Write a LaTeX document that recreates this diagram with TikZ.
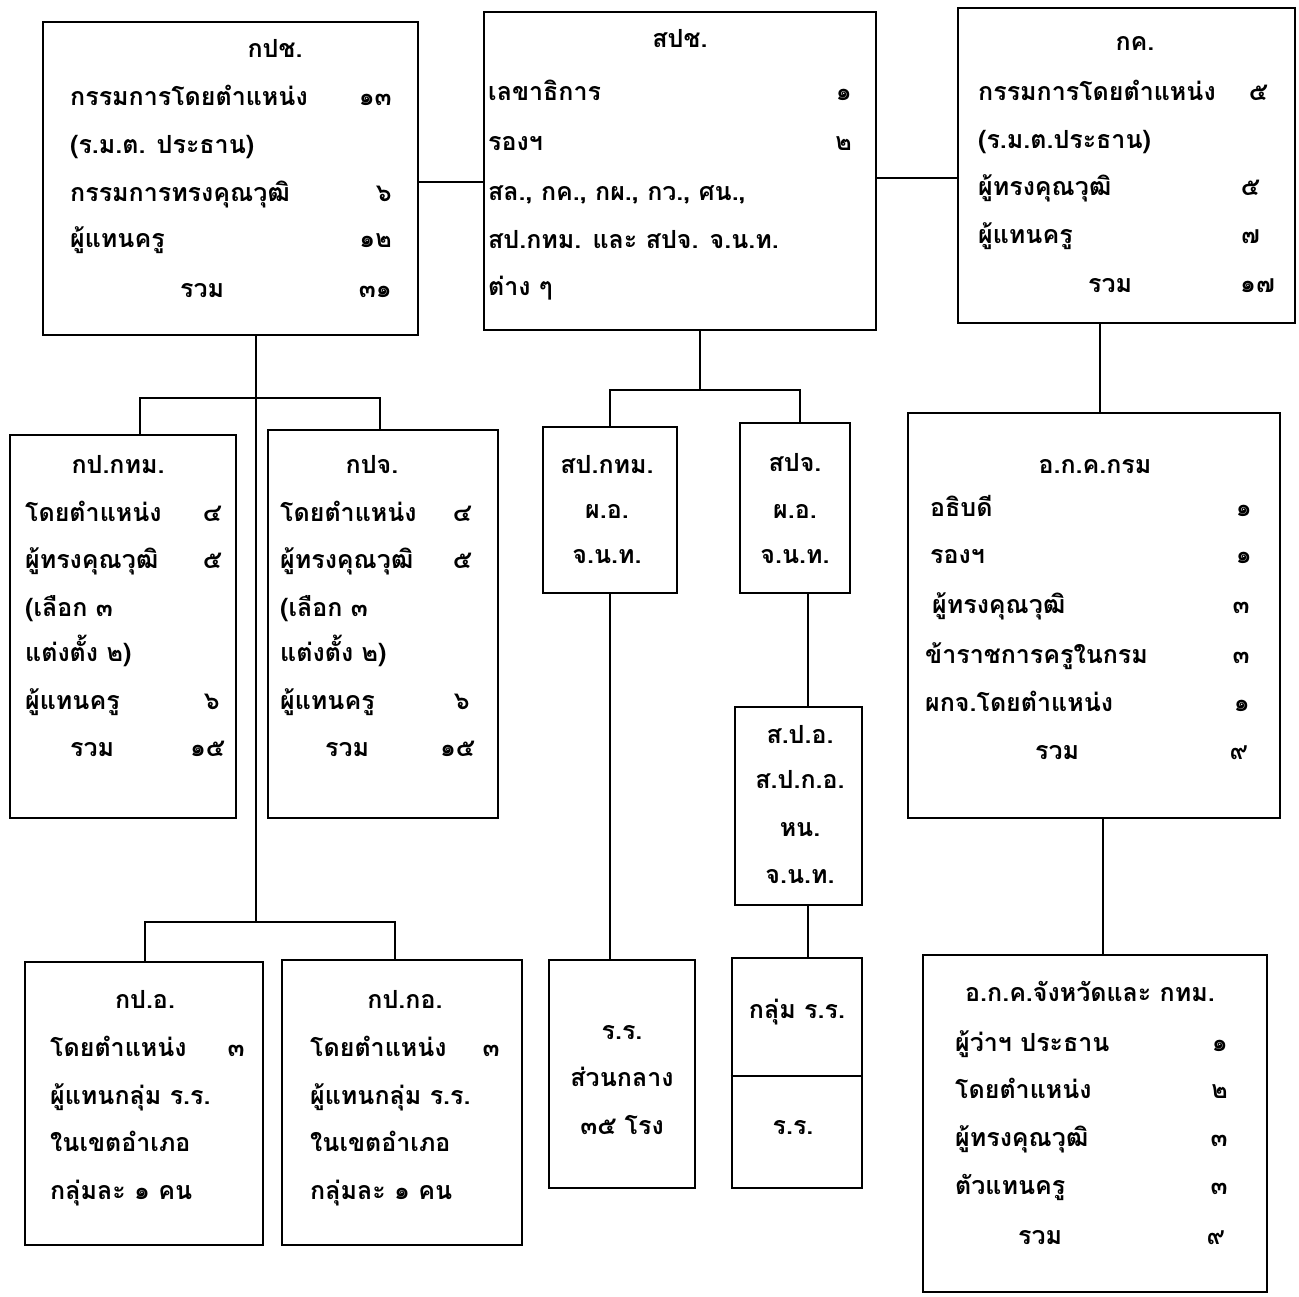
\documentclass[tikz,border=0pt]{standalone}
\usepackage{fontspec}
\newfontfamily\thaifont[Script=Thai]{Loma}
\usetikzlibrary{fit}
\tikzset{
  box/.style={draw, line width=2.8pt, inner sep=0pt},
  conn/.style={line width=2.5pt},
  txt/.style={font=\thaifont\bfseries\fontsize{25}{32}\selectfont, inner sep=0pt, text height=19pt, text depth=7pt, anchor=west},
  num/.style={txt, anchor=east},
  ctr/.style={txt, anchor=center},
}
\begin{document}
\begin{tikzpicture}[x=1pt,y=-1pt]
\useasboundingbox (0,0) rectangle (1299,1297);
% ---------- boxes ----------
\node[box, fit={(43,22) (418,335)}] (kpch) {};
\node[box, fit={(484,12) (876,330)}] (spch) {};
\node[box, fit={(958,8) (1295,323)}] (kk) {};
\node[box, fit={(10,435) (236,818)}] (kpk) {};
\node[box, fit={(268,430) (498,818)}] (kpj) {};
\node[box, fit={(543,427) (677,593)}] (spk) {};
\node[box, fit={(740,423) (850,593)}] (spj) {};
\node[box, fit={(908,413) (1280,818)}] (okkm) {};
\node[box, fit={(735,707) (862,905)}] (spo) {};
\node[box, fit={(25,962) (263,1245)}] (kpa) {};
\node[box, fit={(282,960) (522,1245)}] (kpka) {};
\node[box, fit={(549,960) (695,1188)}] (rr) {};
\node[box, fit={(732,958) (862,1188)}] (klum) {};
\node[box, fit={(923,955) (1267,1292)}] (okkj) {};
% ---------- junction coordinates ----------
\coordinate (c1) at (0,182);
\coordinate (c2) at (0,178);
\coordinate (trunk) at (256,922);
\coordinate (j1L) at (140,398);
\coordinate (j1R) at (380,398);
\coordinate (j2L) at (145,922);
\coordinate (j2R) at (395,922);
\coordinate (j3) at (700,390);
\coordinate (j3L) at (610,390);
\coordinate (j3R) at (800,390);
\coordinate (x808) at (808,0);
\coordinate (x1100) at (1100,0);
\coordinate (x1103) at (1103,0);
\coordinate (dv) at (0,1076);
% ---------- connectors ----------
\draw[conn] (kpch.east |- c1) -- (spch.west |- c1);
\draw[conn] (spch.east |- c2) -- (kk.west |- c2);
\draw[conn] (kpch.south -| trunk) -- (trunk);
\draw[conn] (kpk.north -| j1L) -- (j1L) -- (j1R) -- (kpj.north -| j1R);
\draw[conn] (kpa.north -| j2L) -- (j2L) -- (j2R) -- (kpka.north -| j2R);
\draw[conn] (spch.south -| j3) -- (j3);
\draw[conn] (spk.north -| j3L) -- (j3L) -- (j3R) -- (spj.north -| j3R);
\draw[conn] (spk.south -| j3L) -- (rr.north -| j3L);
\draw[conn] (spj.south -| x808) -- (spo.north -| x808);
\draw[conn] (spo.south -| x808) -- (klum.north -| x808);
\draw[conn] (kk.south -| x1100) -- (okkm.north -| x1100);
\draw[conn] (okkm.south -| x1103) -- (okkj.north -| x1103);
\draw[conn] (klum.west |- dv) -- (klum.east |- dv);
% ---------- box 1: กปช. ----------
\node[ctr] (a0) at (275,52) {กปช.};
\node[txt] (a1) at (70,100) {กรรมการโดยตำแหน่ง};
\node[num] (a1n) at (392,100) {๑๓};
\node[txt] (a2) at (70,148) {(ร.ม.ต. ประธาน)};
\node[txt] (a3) at (70,196) {กรรมการทรงคุณวุฒิ};
\node[num] (a3n) at (392,196) {๖};
\node[txt] (a4) at (70,242) {ผู้แทนครู};
\node[num] (a4n) at (392,242) {๑๒};
\node[txt] (a5) at (180,292) {รวม};
\node[num] (a5n) at (392,292) {๓๑};
% ---------- box 2: สปช. ----------
\node[ctr] (b0) at (680,42) {สปช.};
\node[txt] (b1) at (488,95) {เลขาธิการ};
\node[num] (b1n) at (852,95) {๑};
\node[txt] (b2) at (488,145) {รองฯ};
\node[num] (b2n) at (852,145) {๒};
\node[txt] (b3) at (488,195) {สล., กค., กผ., กว., ศน.,};
\node[txt] (b4) at (488,243) {สป.กทม. และ สปจ. จ.น.ท.};
\node[txt] (b5) at (488,290) {ต่าง ๆ};
% ---------- box 3: กค. ----------
\node[ctr] (c0) at (1135,45) {กค.};
\node[txt] (k1) at (978,95) {กรรมการโดยตำแหน่ง};
\node[num] (k1n) at (1268,95) {๕};
\node[txt] (k2) at (978,143) {(ร.ม.ต.ประธาน)};
\node[txt] (k3) at (978,190) {ผู้ทรงคุณวุฒิ};
\node[num] (k3n) at (1260,190) {๕};
\node[txt] (k4) at (978,238) {ผู้แทนครู};
\node[num] (k4n) at (1260,238) {๗};
\node[txt] (k5) at (1088,287) {รวม};
\node[num] (k5n) at (1275,287) {๑๗};
% ---------- box 4: กป.กทม. ----------
\node[ctr] (d0) at (118,467) {กป.กทม.};
\node[txt] (d1) at (25,515) {โดยตำแหน่ง};
\node[num] (d1n) at (222,515) {๔};
\node[txt] (d2) at (25,562) {ผู้ทรงคุณวุฒิ};
\node[num] (d2n) at (222,562) {๕};
\node[txt] (d3) at (25,610) {(เลือก ๓};
\node[txt] (d4) at (25,655) {แต่งตั้ง ๒)};
\node[txt] (d5) at (25,703) {ผู้แทนครู};
\node[num] (d5n) at (220,703) {๖};
\node[txt] (d6) at (70,750) {รวม};
\node[num] (d6n) at (225,750) {๑๕};
% ---------- box 5: กปจ. ----------
\node[ctr] (e0) at (372,467) {กปจ.};
\node[txt] (e1) at (280,515) {โดยตำแหน่ง};
\node[num] (e1n) at (472,515) {๔};
\node[txt] (e2) at (280,562) {ผู้ทรงคุณวุฒิ};
\node[num] (e2n) at (472,562) {๕};
\node[txt] (e3) at (280,610) {(เลือก ๓};
\node[txt] (e4) at (280,655) {แต่งตั้ง ๒)};
\node[txt] (e5) at (280,703) {ผู้แทนครู};
\node[num] (e5n) at (470,703) {๖};
\node[txt] (e6) at (325,750) {รวม};
\node[num] (e6n) at (475,750) {๑๕};
% ---------- box 6, 7 ----------
\node[ctr] (f0) at (607,467) {สป.กทม.};
\node[ctr] (f1) at (607,512) {ผ.อ.};
\node[ctr] (f2) at (607,557) {จ.น.ท.};
\node[ctr] (g0) at (795,465) {สปจ.};
\node[ctr] (g1) at (795,512) {ผ.อ.};
\node[ctr] (g2) at (795,557) {จ.น.ท.};
% ---------- box สปอ ----------
\node[ctr] (h0) at (800,737) {ส.ป.อ.};
\node[ctr] (h1) at (800,782) {ส.ป.ก.อ.};
\node[ctr] (h2) at (800,830) {หน.};
\node[ctr] (h3) at (800,877) {จ.น.ท.};
% ---------- box อ.ก.ค.กรม ----------
\node[ctr] (m0) at (1095,467) {อ.ก.ค.กรม};
\node[txt] (m1) at (930,510) {อธิบดี};
\node[num] (m1n) at (1252,510) {๑};
\node[txt] (m2) at (930,557) {รองฯ};
\node[num] (m2n) at (1252,557) {๑};
\node[txt] (m3) at (932,607) {ผู้ทรงคุณวุฒิ};
\node[num] (m3n) at (1250,607) {๓};
\node[txt] (m4) at (925,657) {ข้าราชการครูในกรม};
\node[num] (m4n) at (1250,657) {๓};
\node[txt] (m5) at (925,705) {ผกจ.โดยตำแหน่ง};
\node[num] (m5n) at (1250,705) {๑};
\node[txt] (m6) at (1035,753) {รวม};
\node[num] (m6n) at (1248,753) {๙};
% ---------- bottom: กป.อ. ----------
\node[ctr] (p0) at (145,1002) {กป.อ.};
\node[txt] (p1) at (50,1050) {โดยตำแหน่ง};
\node[num] (p1n) at (245,1050) {๓};
\node[txt] (p2) at (50,1098) {ผู้แทนกลุ่ม ร.ร.};
\node[txt] (p3) at (50,1145) {ในเขตอำเภอ};
\node[txt] (p4) at (50,1193) {กลุ่มละ ๑ คน};
% ---------- bottom: กป.กอ. ----------
\node[ctr] (q0) at (405,1002) {กป.กอ.};
\node[txt] (q1) at (310,1050) {โดยตำแหน่ง};
\node[num] (q1n) at (500,1050) {๓};
\node[txt] (q2) at (310,1098) {ผู้แทนกลุ่ม ร.ร.};
\node[txt] (q3) at (310,1145) {ในเขตอำเภอ};
\node[txt] (q4) at (310,1193) {กลุ่มละ ๑ คน};
% ---------- bottom: ร.ร. ----------
\node[ctr] (r0) at (622,1033) {ร.ร.};
\node[ctr] (r1) at (622,1080) {ส่วนกลาง};
\node[ctr] (r2) at (622,1128) {๓๕ โรง};
\node[ctr] (s0) at (797,1012) {กลุ่ม ร.ร.};
\node[ctr] (s1) at (793,1128) {ร.ร.};
% ---------- bottom right ----------
\node[ctr] (u0) at (1090,995) {อ.ก.ค.จังหวัดและ กทม.};
\node[txt] (u1) at (955,1045) {ผู้ว่าฯ ประธาน};
\node[num] (u1n) at (1228,1045) {๑};
\node[txt] (u2) at (955,1092) {โดยตำแหน่ง};
\node[num] (u2n) at (1228,1092) {๒};
\node[txt] (u3) at (955,1140) {ผู้ทรงคุณวุฒิ};
\node[num] (u3n) at (1228,1140) {๓};
\node[txt] (u4) at (955,1188) {ตัวแทนครู};
\node[num] (u4n) at (1228,1188) {๓};
\node[txt] (u5) at (1018,1238) {รวม};
\node[num] (u5n) at (1225,1238) {๙};
\end{tikzpicture}
\end{document}
